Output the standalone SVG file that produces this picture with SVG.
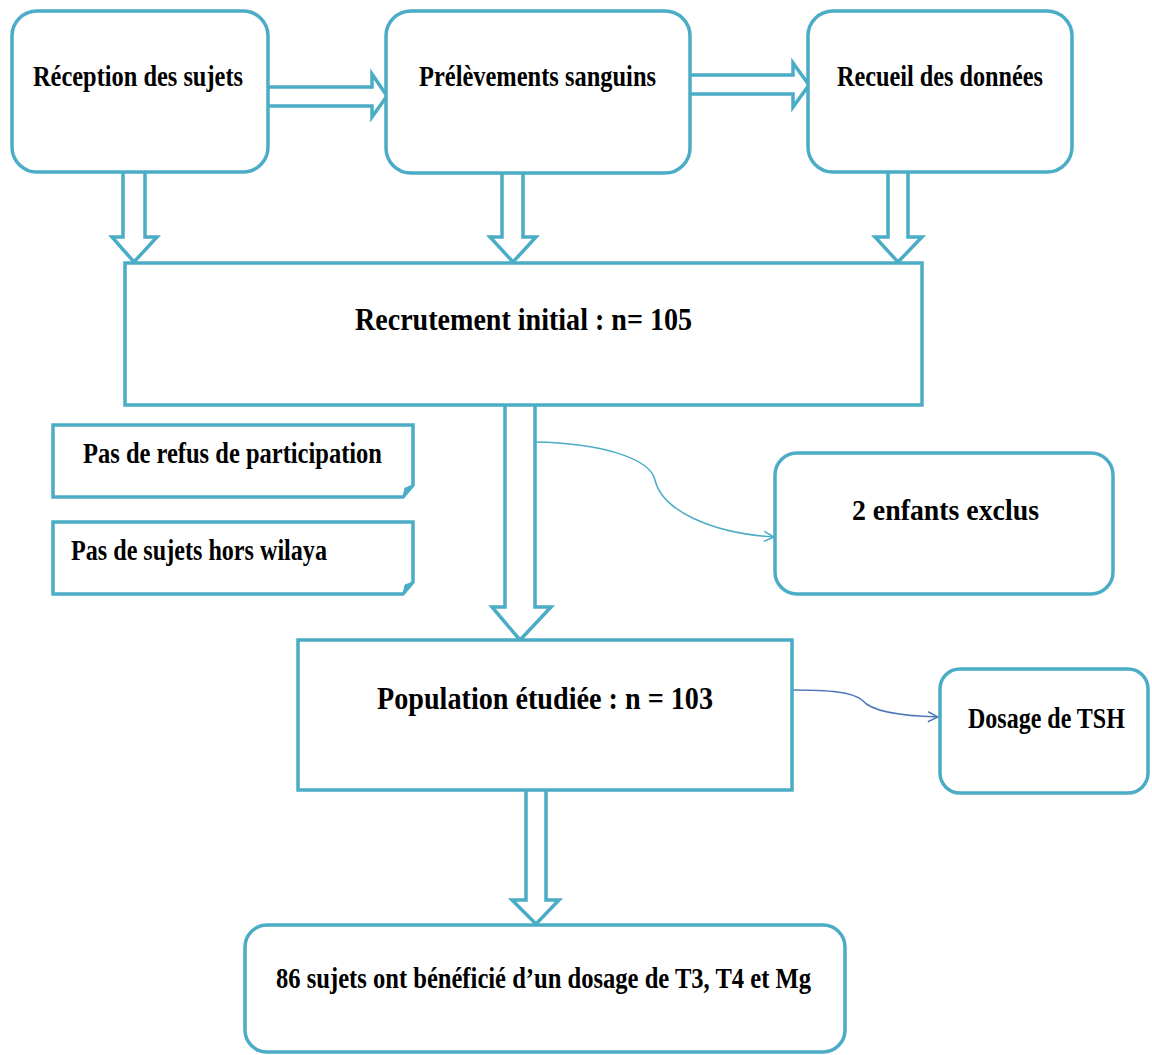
<svg xmlns="http://www.w3.org/2000/svg" width="1152" height="1055" viewBox="0 0 1152 1055">
<style>
.box{fill:#ffffff;stroke:#4bacc6;stroke-width:3.5}
.blk{fill:#ffffff;stroke:#4bacc6;stroke-width:3.5;stroke-linejoin:miter}
.t{font-family:"Liberation Serif","Times New Roman",serif;font-weight:bold;font-size:30px;fill:#000000}
.tb{font-size:32px}
.cv{fill:none;stroke:#4bacc6;stroke-width:1.5}
.cv2{fill:none;stroke:#4f77b8;stroke-width:1.5}
</style>
<defs>
<marker id="open" viewBox="0 0 12 12" refX="11" refY="6" markerWidth="12" markerHeight="12" markerUnits="userSpaceOnUse" orient="auto">
<path d="M1,1 L11,6 L1,11" fill="none" stroke="#4bacc6" stroke-width="1.5"/>
</marker>
<marker id="open2" viewBox="0 0 12 12" refX="11" refY="6" markerWidth="12" markerHeight="12" markerUnits="userSpaceOnUse" orient="auto">
<path d="M1,1 L11,6 L1,11" fill="none" stroke="#4f77b8" stroke-width="1.5"/>
</marker>
</defs>
<rect width="1152" height="1055" fill="#ffffff"/>

<g id="connectors">
<path class="blk" d="M268,87 H372 V74 L387,96 L372,117 V106 H268"/>
<path class="blk" d="M690,75 H793 V63 L809,85 L793,107 V94 H690"/>
<path class="blk" d="M123,172 V237 H112 L134,262 L157,237 H145 V172"/>
<path class="blk" d="M502,173 V237 H490 L513,262 L536,237 H523 V173"/>
<path class="blk" d="M888,172 V237 H875 L898,262 L922,237 H908 V172"/>
<path class="blk" d="M505,405 V607 H492 L520,640 L551,607 H535 V405"/>
<path class="blk" d="M526,790 V900 H512 L536,924 L559,900 H546 V790"/>
<path class="cv" d="M535,442 C600,443 650,458 655,480 C662,510 710,533 774,537" marker-end="url(#open)"/>
<path class="cv2" d="M792,690 C830,690 852,692 862,700 C872,712 900,716 938,717" marker-end="url(#open2)"/>
</g>

<g id="reception">
<rect class="box" x="12" y="11" width="256" height="161" rx="25"/>
<text class="t" x="33" y="86" textLength="210" lengthAdjust="spacingAndGlyphs">Réception des sujets</text>
</g>
<g id="prelevements">
<rect class="box" x="386" y="11" width="304" height="162" rx="25"/>
<text class="t" x="419" y="86" textLength="237" lengthAdjust="spacingAndGlyphs">Prélèvements sanguins</text>
</g>
<g id="recueil">
<rect class="box" x="808" y="11" width="264" height="161" rx="25"/>
<text class="t" x="837" y="86" textLength="206" lengthAdjust="spacingAndGlyphs">Recueil des données</text>
</g>
<g id="recrutement">
<rect class="box" x="125" y="263" width="797" height="142"/>
<text class="t tb" x="355" y="330" textLength="337" lengthAdjust="spacingAndGlyphs">Recrutement  initial  : n= 105</text>
</g>
<g id="refus">
<path class="box" d="M53,425 H413 V485 L403,497 H53 Z"/>
<path d="M403,497 L405,488 L413,485 Z" fill="#4bacc6" stroke="#4bacc6" stroke-width="1"/>
<text class="t" x="83" y="463" textLength="299" lengthAdjust="spacingAndGlyphs">Pas de refus de participation</text>
</g>
<g id="wilaya">
<path class="box" d="M53,522 H413 V582 L403,594 H53 Z"/>
<path d="M403,594 L405,585 L413,582 Z" fill="#4bacc6" stroke="#4bacc6" stroke-width="1"/>
<text class="t" x="71" y="560" textLength="256" lengthAdjust="spacingAndGlyphs">Pas de sujets hors wilaya</text>
</g>
<g id="exclus">
<rect class="box" x="775" y="453" width="338" height="141" rx="22"/>
<text class="t" x="852" y="520" textLength="187" lengthAdjust="spacingAndGlyphs">2 enfants exclus</text>
</g>
<g id="population">
<rect class="box" x="298" y="640" width="494" height="150"/>
<text class="t tb" x="377" y="709" textLength="336" lengthAdjust="spacingAndGlyphs">Population  étudiée : n = 103</text>
</g>
<g id="tsh">
<rect class="box" x="940" y="669" width="208" height="124" rx="20"/>
<text class="t" transform="translate(968,728) scale(0.8,1)" x="0" y="0">Dosage de TSH</text>
</g>
<g id="dosage">
<rect class="box" x="245" y="925" width="600" height="127" rx="22"/>
<text class="t" x="276" y="988" textLength="535" lengthAdjust="spacingAndGlyphs">86 sujets ont bénéficié d’un dosage de T3, T4 et Mg</text>
</g>
</svg>
